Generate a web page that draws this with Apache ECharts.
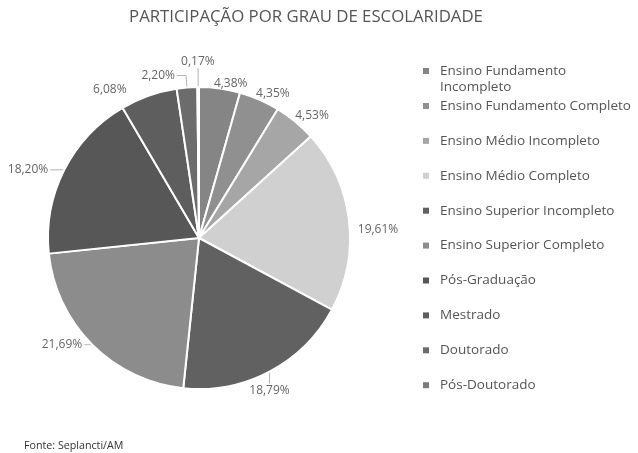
<!DOCTYPE html>
<html>
<head>
<meta charset="utf-8">
<script src="https://cdn.jsdelivr.net/npm/echarts@6/dist/echarts.min.js"></script>
<style>
  html, body { margin: 0; padding: 0; background: #fff; }
  #chart { width: 638px; height: 453px; }
</style>
</head>
<body>
<div id="chart"></div>
<script>
// Participação por grau de escolaridade (%)
const categories = [
  'Ensino Fundamento Incompleto',
  'Ensino Fundamento Completo',
  'Ensino Médio Incompleto',
  'Ensino Médio Completo',
  'Ensino Superior Incompleto',
  'Ensino Superior Completo',
  'Pós-Graduação',
  'Mestrado',
  'Doutorado',
  'Pós-Doutorado'
];
const values = [4.38, 4.35, 4.53, 19.61, 18.79, 21.69, 18.20, 6.08, 2.20, 0.17];
const shades = ['#858585', '#909090', '#a6a6a6', '#d0d0d0', '#616161',
                '#8c8c8c', '#575757', '#5e5e5e', '#6c6c6c', '#7a7a7a'];

// Label placement per slice: angle nudge (deg), radial leader, horizontal / vertical leader
const labelTweaks = [
  { da: 2, lead: 0 },
  { da: 0, lead: 0 },
  { da: 0, lead: 0 },
  { da: 4, lead: 8 },
  { da: 0, lead: 0, v: 12 },
  { da: 0, lead: 0, h: 8 },
  { da: 0, lead: 0, h: 14 },
  { da: 0, lead: 6, h: 18 },
  { da: 0, lead: 12, h: 9 },
  { da: 0, lead: 19 }
];
const showLeader = [false, false, false, false, true, true, true, false, true, true];

const PIE_CENTER = [199, 238];
const PIE_RADIUS = 151;

const fontFamily = '"Open Sans", "DejaVu Sans", sans-serif';
const textGray = '#555';

const total = values.reduce((a, b) => a + b, 0);
const midAngles = [];
values.reduce((acc, v) => { midAngles.push((acc + v / 2) / total * 360); return acc + v; }, 0);

function placeLabel(params) {
  const i = params.dataIndex;
  const t = labelTweaks[i];
  const theta = (midAngles[i] + (t.da || 0)) * Math.PI / 180;
  const dx = Math.sin(theta), dy = -Math.cos(theta);
  const edge = [PIE_CENTER[0] + PIE_RADIUS * dx, PIE_CENTER[1] + PIE_RADIUS * dy];
  const p = [edge[0] + t.lead * dx, edge[1] + t.lead * dy];
  const w = params.labelRect.width, hgt = params.labelRect.height;
  const clamp = v => Math.max(-1, Math.min(1, v * 2));
  let cx, cy, pts;
  if (t.h) {
    const sx = Math.sign(dx);
    const p2 = [p[0] + sx * t.h, p[1]];
    cx = p2[0] + sx * (w / 2 + 2); cy = p2[1];
    pts = [edge, p, p2];
  } else if (t.v) {
    const sy = Math.sign(dy);
    const p2 = [p[0], p[1] + sy * t.v];
    cx = p2[0]; cy = p2[1] + sy * (hgt / 2 + 1);
    pts = [edge, p, p2];
  } else {
    cx = p[0] + clamp(dx) * w / 2;
    cy = p[1] + clamp(dy) * hgt / 2;
    pts = [edge, p, p];
  }
  return { x: cx, y: cy, align: 'center', verticalAlign: 'middle', labelLinePoints: pts };
}

const chart = echarts.init(document.getElementById('chart'), null, { renderer: 'canvas' });

const legendBase = {
  orient: 'vertical',
  left: 418,
  icon: 'path://M0,0h6v6h-6z',
  itemWidth: 18,
  itemHeight: 6,
  selectedMode: false,
  itemStyle: { borderWidth: 0 },
  textStyle: { fontFamily: fontFamily, fontSize: 13.5, color: textGray, lineHeight: 16 }
};

chart.setOption({
  backgroundColor: '#fff',
  color: shades,
  title: {
    text: 'PARTICIPAÇÃO POR GRAU DE ESCOLARIDADE',
    left: 301,
    textAlign: 'center',
    top: 4,
    textStyle: { fontFamily: fontFamily, fontSize: 16.8, fontWeight: 'normal', color: textGray }
  },
  legend: [
    Object.assign({}, legendBase, {
      top: 58,
      // tall icon box keeps the swatch beside the first of the two text lines
      icon: 'path://M0,0h6v6h-6z M0,22h0.01v0.01h-0.01z',
      itemHeight: 22,
      data: [categories[0]],
      formatter: name => name.replace(' Incompleto', '\nIncompleto')
    }),
    Object.assign({}, legendBase, {
      top: 93,
      itemGap: 18.9,
      data: categories.slice(1)
    })
  ],
  graphic: [{
    type: 'text',
    left: 24,
    top: 440,
    style: { text: 'Fonte: Seplancti/AM', font: '10.7px ' + fontFamily, fill: '#333' }
  }],
  series: [{
    type: 'pie',
    center: PIE_CENTER,
    radius: [0, PIE_RADIUS],
    startAngle: 90,
    clockwise: true,
    avoidLabelOverlap: false,
    itemStyle: { borderColor: '#fff', borderWidth: 2 },
    label: {
      show: true,
      fontFamily: fontFamily,
      fontSize: 12,
      color: '#666',
      formatter: p => p.value.toFixed(2).replace('.', ',') + '%'
    },
    labelLine: { show: true, length: 8, length2: 4, lineStyle: { color: '#b5b5b5', width: 1 } },
    labelLayout: placeLabel,
    emphasis: { disabled: true },
    data: categories.map((c, i) => ({
      name: c,
      value: values[i],
      labelLine: { show: showLeader[i] }
    }))
  }]
});
</script>
</body>
</html>
